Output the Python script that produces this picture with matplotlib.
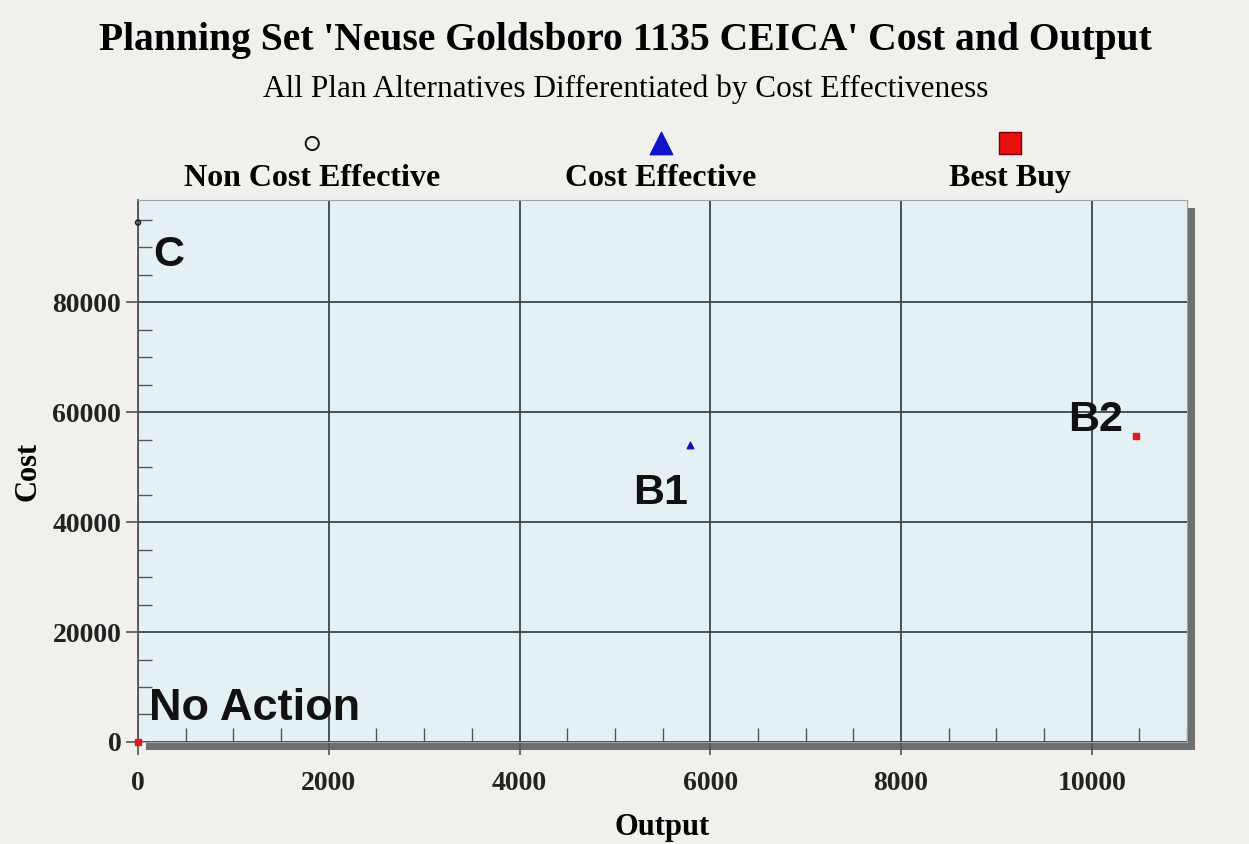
import matplotlib.pyplot as plt
from matplotlib.patches import Rectangle
from matplotlib.ticker import MultipleLocator
import matplotlib.transforms as mtransforms

# Plan alternatives: output, cost, class
plan_names = ["No Action", "C", "B1", "B2"]
output = [0, 0, 5790, 10460]
cost = [0, 94500, 54100, 55600]
category = ["Best Buy", "Non Cost Effective", "Cost Effective", "Best Buy"]

legend_labels = ["Non Cost Effective", "Cost Effective", "Best Buy"]

serif = "Liberation Serif"
sans = "Liberation Sans"
paper = "#f1f0ec"
plot_bg = "#e5f0f5"
grid_col = "#3c444c"

fig = plt.figure(figsize=(12.49, 8.44), dpi=100, facecolor=paper)
ax = fig.add_axes([0.1105, 0.1209, 0.8400, 0.6421])
ax.set_facecolor(plot_bg)

# drop shadow behind the plot area
shadow_off = mtransforms.ScaledTranslation(8 / 100, -8 / 100, fig.dpi_scale_trans)
pos = ax.get_position()
fig.add_artist(Rectangle((pos.x0, pos.y0), pos.width, pos.height,
                         transform=fig.transFigure + shadow_off,
                         facecolor="#6f6f6f", edgecolor="none", zorder=-1))

styles = {
    "Non Cost Effective": dict(marker="o", s=12, facecolors="none", edgecolors="#222222", linewidths=1.2),
    "Cost Effective": dict(marker="^", s=22, c="#1010b0"),
    "Best Buy": dict(marker="s", s=18, c="#e01818"),
}
for cat in legend_labels:
    xs = [x for x, c in zip(output, category) if c == cat]
    ys = [y for y, c in zip(cost, category) if c == cat]
    ax.scatter(xs, ys, zorder=5, clip_on=False, **styles[cat])

offsets = {"No Action": (8, 24), "C": (11, -23), "B1": (-21, -35), "B2": (-29, 12)}
ha = {"No Action": "left", "C": "left", "B1": "center", "B2": "center"}
sizes = {"No Action": 32.5, "C": 31, "B1": 31, "B2": 31}
for name, x, y in zip(plan_names, output, cost):
    ax.annotate(name, (x, y), xytext=offsets[name], textcoords="offset points",
                ha=ha[name], va="center", fontsize=sizes[name], fontweight="bold",
                family=sans, color="#111111", zorder=6)

ax.set_xlim(0, 11000)
ax.set_ylim(0, 98600)
ax.xaxis.set_major_locator(MultipleLocator(2000))
ax.xaxis.set_minor_locator(MultipleLocator(500))
ax.yaxis.set_major_locator(MultipleLocator(20000))
ax.yaxis.set_minor_locator(MultipleLocator(5000))
ax.set_xticks(range(0, 11000, 2000))
ax.set_yticks(range(0, 90000, 20000))
ax.grid(True, which="major", color=grid_col, linewidth=1.3)
ax.tick_params(which="major", direction="out", length=9, width=1.2, color="#555555",
               labelsize=20)
ax.tick_params(axis="x", which="major", pad=12)
ax.tick_params(axis="y", which="major", pad=3)
ax.tick_params(which="minor", direction="in", length=10, width=1.0, color="#555555")
for lab in ax.get_xticklabels() + ax.get_yticklabels():
    lab.set_family(serif)
    lab.set_fontweight("bold")
    lab.set_color("#222222")
for side in ["top", "right", "bottom"]:
    ax.spines[side].set_color("#9aa4aa")
ax.spines["left"].set_color("#555555")
ax.spines["left"].set_linewidth(1.3)

ax.set_xlabel("Output", family=serif, fontweight="bold", fontsize=22, labelpad=12)
ax.set_ylabel("Cost", family=serif, fontweight="bold", fontsize=22, labelpad=7)

fig.text(0.501, 0.952, "Planning Set 'Neuse Goldsboro 1135 CEICA' Cost and Output",
         ha="center", va="center", family=serif, fontweight="bold", fontsize=28.5)
fig.text(0.501, 0.894, "All Plan Alternatives Differentiated by Cost Effectiveness",
         ha="center", va="center", family=serif, fontsize=22.5)

# legend row above the plot
lx = [0.250, 0.529, 0.809]
leg_ax = fig.add_axes([0, 0.8, 1, 0.1])
leg_ax.set_xlim(0, 1)
leg_ax.set_ylim(0, 1)
leg_ax.axis("off")
leg_styles = [
    dict(marker="o", s=90, facecolors="none", edgecolors="#111111", linewidths=1.4),
    dict(marker="^", s=260, c="#1212c8"),
    dict(marker="s", s=240, c="#e81010", edgecolors="#7a0000", linewidths=1.0),
]
for x, st in zip(lx, leg_styles):
    leg_ax.scatter([x], [0.3], **st)
for x, lab in zip(lx, legend_labels):
    fig.text(x, 0.789, lab, ha="center", va="center", family=serif,
             fontweight="bold", fontsize=23)

fig.savefig("out.png", dpi=100, facecolor=paper)
